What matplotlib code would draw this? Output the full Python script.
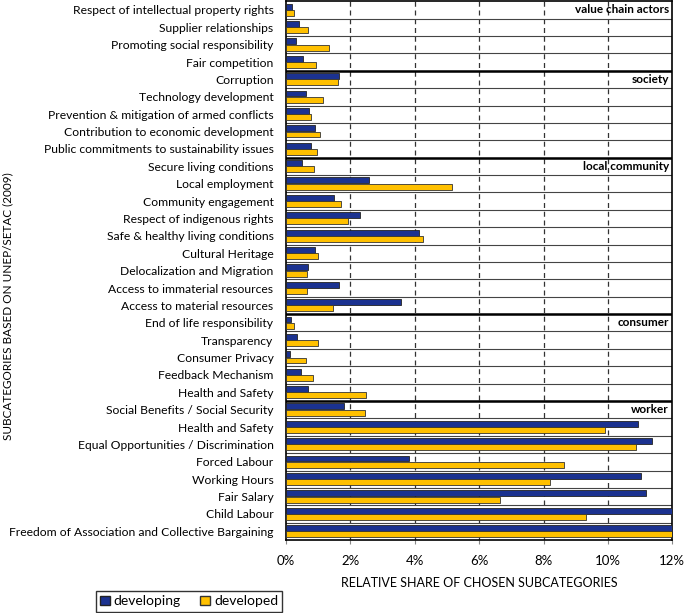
import numpy as np
import matplotlib.pyplot as plt
from matplotlib.patches import Patch

plt.rcParams['font.family'] = ['Lato', 'DejaVu Sans']

# subcategories, top to bottom
labels = [
    'Respect of intellectual property rights', 'Supplier relationships',
    'Promoting social responsibility', 'Fair competition',
    'Corruption', 'Technology development',
    'Prevention & mitigation of armed conflicts',
    'Contribution to economic development',
    'Public commitments to sustainability issues',
    'Secure living conditions', 'Local employment', 'Community engagement',
    'Respect of indigenous rights', 'Safe & healthy living conditions',
    'Cultural Heritage', 'Delocalization and Migration',
    'Access to immaterial resources', 'Access to material resources',
    'End of life responsibility', 'Transparency', 'Consumer Privacy',
    'Feedback Mechanism', 'Health and Safety',
    'Social Benefits / Social Security', 'Health and Safety',
    'Equal Opportunities / Discrimination', 'Forced Labour', 'Working Hours',
    'Fair Salary', 'Child Labour',
    'Freedom of Association and Collective Bargaining',
]
developing = [0.20, 0.40, 0.32, 0.53,
              1.65, 0.63, 0.71, 0.89, 0.77,
              0.51, 2.59, 1.49, 2.30, 4.13, 0.91, 0.69, 1.65, 3.57,
              0.17, 0.33, 0.14, 0.48, 0.69,
              1.80, 10.92, 11.36, 3.83, 11.02, 11.17, 12.4, 12.6]
developed = [0.24, 0.67, 1.33, 0.93,
             1.61, 1.14, 0.77, 1.05, 0.95,
             0.88, 5.15, 1.71, 1.94, 4.27, 1.00, 0.65, 0.65, 1.46,
             0.24, 0.98, 0.62, 0.83, 2.47,
             2.45, 9.92, 10.88, 8.65, 8.19, 6.64, 9.33, 12.3]
groups = ['value chain actors', 'society', 'local community', 'consumer', 'worker']
group_sizes = [4, 5, 9, 5, 8]

blue = '#1b3290'
gold = '#ffc000'
n = len(labels)
y = np.arange(n)

fig = plt.figure(figsize=(6.85, 6.13), dpi=100)
ax = fig.add_axes([0.4175, 0.119, 0.564, 0.879])

ax.barh(y + 0.31, developing, height=0.34, color=blue, edgecolor='#222222', linewidth=0.6,
        label='developing', zorder=3)
ax.barh(y + 0.67, developed, height=0.34, color=gold, edgecolor='#333333', linewidth=0.6,
        label='developed', zorder=3)

ax.set_xlim(0, 12)
ax.set_ylim(n, 0)

# grid
for xv in range(2, 12, 2):
    ax.axvline(xv, color='#333333', lw=0.9, ls=(0, (4, 3)), zorder=1)
for k in range(1, n):
    ax.axhline(k, color='#444444', lw=0.8, zorder=2)
start = 0
for g, size in zip(groups, group_sizes):
    if start > 0:
        ax.axhline(start, color='black', lw=1.8, zorder=4)
    ax.text(11.9, start + 0.5, g, ha='right', va='center', fontsize=8.5,
            fontweight='bold', zorder=5)
    start += size

ax.set_yticks(y + 0.5)
ax.set_yticklabels(labels, fontsize=8.7)
ax.tick_params(axis='y', length=0, pad=9)
ax.set_xticks(range(0, 13, 2))
ax.set_xticklabels([f'{v}%' for v in range(0, 13, 2)], fontsize=9.5)
ax.tick_params(axis='x', length=3, color='#888888', pad=8)
for s in ax.spines.values():
    s.set_color('black')
    s.set_linewidth(1.2)

ax.set_xlabel('RELATIVE SHARE OF CHOSEN SUBCATEGORIES', fontsize=9, labelpad=7)
fig.text(0.012, 0.50, 'SUBCATEGORIES BASED ON UNEP/SETAC (2009)', rotation=90,
         ha='center', va='center', fontsize=8.5)

handles = [Patch(facecolor=blue, edgecolor='#222222', label='developing'),
           Patch(facecolor=gold, edgecolor='#333333', label='developed')]
fig.legend(handles=handles, loc='center', bbox_to_anchor=(0.276, 0.019), ncol=2,
           fontsize=10, frameon=True, fancybox=False, edgecolor='black',
           handlelength=0.7, handleheight=0.7, handletextpad=0.3, columnspacing=1.4,
           borderpad=0.3, borderaxespad=0)

fig.savefig('out.png', dpi=100)
